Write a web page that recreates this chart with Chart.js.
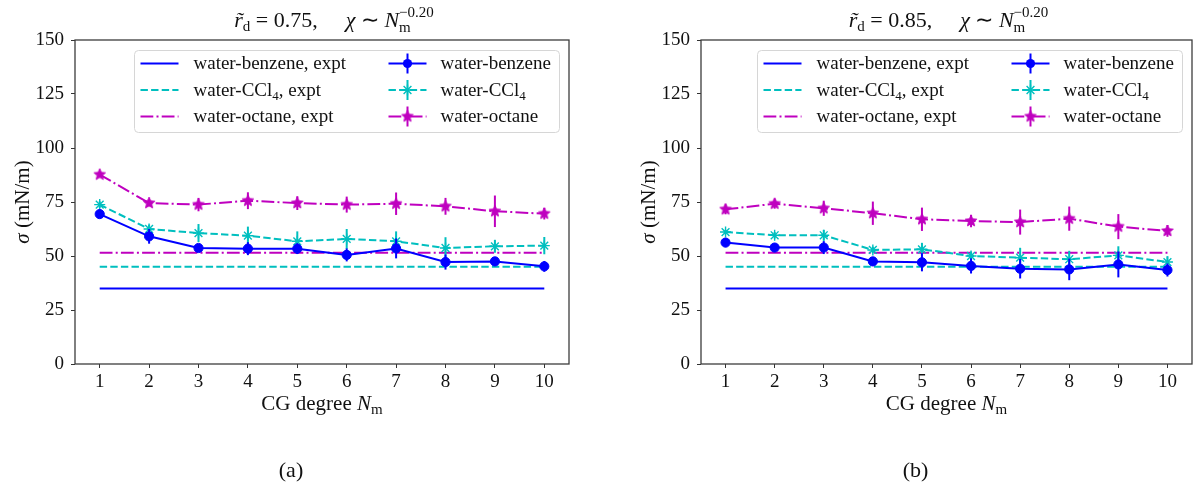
<!DOCTYPE html>
<html><head><meta charset="utf-8">
<script src="https://cdn.jsdelivr.net/npm/chart.js@4.4.1/dist/chart.umd.min.js"></script>
<style>
html,body{margin:0;padding:0;background:#fff;width:1200px;height:491px;overflow:hidden}
.wrap{position:absolute;top:0;width:600px;height:491px}
canvas{display:block}
</style></head><body>
<div class="wrap" style="left:0"><canvas id="cA" width="600" height="491"></canvas></div>
<div class="wrap" style="left:600px"><canvas id="cB" width="600" height="491"></canvas></div>
<script>
// ---------- data ----------
const cgDegree = [1, 2, 3, 4, 5, 6, 7, 8, 9, 10];
const yTickValues = [0, 25, 50, 75, 100, 125, 150];
const exptBenzene = 35.0;
const exptCCl4 = 45.0;
const exptOctane = 51.5;

// panel (a): r_d = 0.75
const benzeneA    = [69.4, 59.1, 53.7, 53.4, 53.4, 50.5, 53.5, 47.2, 47.5, 45.2];
const benzeneAErr = [1.2, 3.4, 1.5, 3.0, 2.5, 3.0, 4.6, 3.5, 1.5, 2.5];
const ccl4A       = [73.8, 62.5, 60.6, 59.4, 56.8, 57.9, 56.8, 53.7, 54.5, 54.8];
const ccl4AErr    = [1.5, 2.0, 4.2, 4.2, 4.6, 4.6, 4.6, 5.0, 3.0, 4.0];
const octaneA     = [87.7, 74.5, 73.8, 75.6, 74.5, 73.8, 74.2, 73.0, 70.7, 69.6];
const octaneAErr  = [1.2, 1.5, 3.1, 3.9, 3.2, 3.7, 5.2, 3.9, 7.3, 2.7];

// panel (b): r_d = 0.85
const benzeneB    = [56.2, 53.9, 53.9, 47.5, 47.1, 45.4, 44.1, 43.8, 46.1, 43.5];
const benzeneBErr = [1.0, 1.5, 3.0, 1.5, 4.2, 3.5, 4.5, 5.0, 6.0, 3.0];
const ccl4B       = [61.1, 59.6, 59.6, 52.8, 53.1, 50.0, 49.2, 48.5, 50.3, 47.2];
const ccl4BErr    = [1.0, 1.5, 2.5, 1.5, 3.0, 2.0, 4.6, 3.9, 4.2, 2.7];
const octaneB     = [71.6, 74.2, 72.1, 69.8, 67.0, 66.2, 65.7, 67.3, 63.6, 61.6];
const octaneBErr  = [2.3, 2.3, 3.5, 5.4, 5.4, 2.9, 5.8, 5.6, 5.8, 2.7];

// ---------- styling ----------
const FONT = '"Liberation Serif", "Times New Roman", serif';
const C_B = '#0000ff', C_C = '#00bfbf', C_M = '#bf00bf';
const DASH = [7.4, 3.2];
const DASHDOT = [12.8, 3.2, 2, 3.2];

function starImage(color, r) {
  const s = Math.ceil(r * 2 + 4);
  const c = document.createElement('canvas'); c.width = s; c.height = s;
  const g = c.getContext('2d');
  g.fillStyle = color; g.strokeStyle = color; g.lineWidth = 1; g.lineJoin = 'miter';
  g.beginPath();
  for (let i = 0; i < 10; i++) {
    const a = -Math.PI / 2 + i * Math.PI / 5;
    const rr = (i % 2) ? r * 0.45 : r;
    g.lineTo(s / 2 + rr * Math.cos(a), s / 2 + rr * Math.sin(a));
  }
  g.closePath(); g.fill(); g.stroke();
  return c;
}
const magStar = starImage(C_M, 6);

function seriesDs(label, values, errs, color, dash, marker) {
  const base = {
    label, errors: errs,
    data: cgDegree.map((x, i) => ({ x, y: values[i] })),
    borderColor: color, backgroundColor: color, borderWidth: 2, borderDash: dash,
    pointBackgroundColor: color, pointBorderColor: color, tension: 0, fill: false
  };
  if (marker === 'circle') Object.assign(base, { pointStyle: 'circle', pointRadius: 4.6, pointBorderWidth: 1 });
  if (marker === 'ast') Object.assign(base, { pointStyle: 'star', pointRadius: 5.5, pointBorderWidth: 1.4 });
  if (marker === 'star') Object.assign(base, { pointStyle: magStar, pointRadius: 6 });
  base.marker = marker;
  return base;
}
function exptDs(label, value, color, dash) {
  const xs = [cgDegree[0], cgDegree[cgDegree.length - 1]];
  return {
    label, isExpt: true, data: xs.map(x => ({ x, y: value })),
    borderColor: color, backgroundColor: color, borderWidth: 2, borderDash: dash, pointRadius: 0, fill: false
  };
}

// ---------- rich text ----------
function fnt(p) { return (p.it ? 'italic ' : '') + p.size + 'px ' + FONT; }
function layoutRich(ctx, parts) {
  let x = 0, prevStart = 0, prevW = 0; const out = [];
  for (const p of parts) {
    ctx.font = fnt(p);
    const w = ctx.measureText(p.t).width + (p.gap || 0);
    let sx;
    if (p.over) { sx = prevStart; x = Math.max(prevStart + prevW, sx + w); }
    else { sx = x; x += w; }
    out.push({ p, sx }); prevStart = sx; prevW = w;
  }
  return { out, width: x };
}
function drawRich(ctx, parts, x, y, align, color) {
  const L = layoutRich(ctx, parts);
  let x0 = x;
  if (align === 'center') x0 = x - L.width / 2;
  if (align === 'right') x0 = x - L.width;
  ctx.save();
  ctx.fillStyle = color || '#111';
  ctx.textBaseline = 'alphabetic'; ctx.textAlign = 'left';
  for (const o of L.out) {
    if (!o.p.t) continue;
    ctx.font = fnt(o.p);
    ctx.fillText(o.p.t, x0 + o.sx, y + (o.p.dy || 0));
  }
  ctx.restore();
}
function legendParts(label, size) {
  const idx = label.indexOf('CCl4');
  if (idx < 0) return [{ t: label, size }];
  return [{ t: label.slice(0, idx) + 'CCl', size }, { t: '4', size: Math.round(size * 0.7), dy: 4 },
          { t: label.slice(idx + 4), size }];
}

function drawMarker(ctx, ds, x, y) {
  ctx.save();
  ctx.fillStyle = ds.borderColor; ctx.strokeStyle = ds.borderColor; ctx.setLineDash([]);
  if (ds.marker === 'circle') {
    ctx.beginPath(); ctx.arc(x, y, ds.pointRadius, 0, Math.PI * 2); ctx.fill();
  } else if (ds.marker === 'ast') {
    const r = ds.pointRadius; ctx.lineWidth = ds.pointBorderWidth;
    ctx.beginPath();
    ctx.moveTo(x - r, y); ctx.lineTo(x + r, y); ctx.moveTo(x, y - r); ctx.lineTo(x, y + r);
    const d = r * Math.SQRT1_2;
    ctx.moveTo(x - d, y - d); ctx.lineTo(x + d, y + d); ctx.moveTo(x - d, y + d); ctx.lineTo(x + d, y - d);
    ctx.stroke();
  } else if (ds.marker === 'star') {
    ctx.drawImage(magStar, x - magStar.width / 2, y - magStar.height / 2);
  }
  ctx.restore();
}

function makeDecor(panel) {
  return {
    id: 'decor' + panel.key,
    beforeDatasetDraw(chart, args) {
      const ds = chart.data.datasets[args.index];
      if (!ds.errors) return;
      const ctx = chart.ctx, xs = chart.scales.x, ys = chart.scales.y;
      ctx.save(); ctx.strokeStyle = ds.borderColor; ctx.lineWidth = 2; ctx.setLineDash([]);
      ds.data.forEach((p, i) => {
        const e = ds.errors[i], px = xs.getPixelForValue(p.x);
        ctx.beginPath();
        ctx.moveTo(px, ys.getPixelForValue(p.y - e)); ctx.lineTo(px, ys.getPixelForValue(p.y + e));
        ctx.stroke();
      });
      ctx.restore();
    },
    afterDraw(chart) {
      const ctx = chart.ctx, a = chart.chartArea;
      const cx = (a.left + a.right) / 2;
      // frame
      ctx.save(); ctx.strokeStyle = '#3c3c3c'; ctx.lineWidth = 1.3; ctx.setLineDash([]);
      ctx.strokeRect(a.left, a.top, a.right - a.left, a.bottom - a.top); ctx.restore();
      // legend
      const bw = 425, bh = 82, bx = a.right - bw - 9.5, by = a.top + 10.5;
      ctx.save();
      ctx.beginPath(); ctx.roundRect(bx, by, bw, bh, 4);
      ctx.fillStyle = 'rgba(255,255,255,0.85)'; ctx.fill();
      ctx.strokeStyle = '#d6d6d6'; ctx.lineWidth = 1; ctx.stroke();
      ctx.restore();
      const rows = [by + 13, by + 39.5, by + 66];
      const expts = chart.data.datasets.filter(d => d.isExpt);
      const sers = chart.data.datasets.filter(d => !d.isExpt);
      const cols = [{ ds: expts, hx: bx + 6, tx: bx + 59 }, { ds: sers, hx: bx + 254, tx: bx + 306 }];
      cols.forEach(col => {
        col.ds.forEach((ds, r) => {
          const y = rows[r];
          ctx.save();
          ctx.strokeStyle = ds.borderColor; ctx.lineWidth = 2; ctx.setLineDash(ds.borderDash || []);
          ctx.beginPath(); ctx.moveTo(col.hx, y); ctx.lineTo(col.hx + 38, y); ctx.stroke();
          if (ds.errors) {
            ctx.setLineDash([]);
            ctx.beginPath(); ctx.moveTo(col.hx + 19, y - 10); ctx.lineTo(col.hx + 19, y + 10); ctx.stroke();
          }
          ctx.restore();
          if (ds.errors) drawMarker(ctx, ds, col.hx + 19, y);
          drawRich(ctx, legendParts(ds.label, 19), col.tx, y + 5.5, 'left', '#111');
        });
      });
      // title
      drawRich(ctx, [
        { t: 'r\u0303', it: 1, size: 22 }, { t: 'd', size: 15, dy: 4 },
        { t: ' = ' + panel.rd + ',', size: 22 }, { t: '', size: 22, gap: 28 },
        { t: '\u03c7', it: 1, size: 22 }, { t: ' \u223c ', size: 22 },
        { t: 'N', it: 1, size: 22 }, { t: 'm', size: 15, dy: 5 }, { t: '\u22120.20', size: 15, dy: -10, over: 1 }
      ], cx + panel.titleDx, 27, 'center', '#111');
      // x label
      drawRich(ctx, [{ t: 'CG degree ', size: 21 }, { t: 'N', it: 1, size: 21 }, { t: 'm', size: 15, dy: 4 }],
        cx, 410, 'center', '#111');
      // y label
      ctx.save();
      ctx.translate(a.left - 53, (a.top + a.bottom) / 2); ctx.rotate(-Math.PI / 2);
      drawRich(ctx, [{ t: '\u03c3', it: 1, size: 21 }, { t: ' (mN/m)', size: 21 }], 0, 7, 'center', '#111');
      ctx.restore();
      // caption
      drawRich(ctx, [{ t: panel.caption, size: 22 }], cx - 31, 477, 'center', '#111');
    }
  };
}

function makeChart(id, panel, series) {
  const datasets = [
    seriesDs('water-benzene', series.b, series.be, C_B, [], 'circle'),
    seriesDs('water-CCl4', series.c, series.ce, C_C, DASH, 'ast'),
    seriesDs('water-octane', series.m, series.me, C_M, DASHDOT, 'star'),
    exptDs('water-benzene, expt', exptBenzene, C_B, []),
    exptDs('water-CCl4, expt', exptCCl4, C_C, DASH),
    exptDs('water-octane, expt', exptOctane, C_M, DASHDOT)
  ];
  const tickFont = { family: FONT, size: 19 };
  return new Chart(document.getElementById(id), {
    type: 'line',
    data: { datasets },
    options: {
      responsive: false, animation: false, devicePixelRatio: 1,
      layout: { padding: { top: 40, left: 0, right: panel.padRight, bottom: 87 } },
      plugins: { legend: { display: false }, tooltip: { enabled: false } },
      scales: {
        x: {
          type: 'linear', min: 0.5, max: 10.5,
          afterBuildTicks: s => { s.ticks = cgDegree.map(v => ({ value: v })); },
          afterFit: s => { s.height = 40; },
          grid: { drawOnChartArea: false, drawTicks: true, tickLength: 4, color: '#333', lineWidth: 1 },
          border: { display: false },
          ticks: { font: tickFont, color: '#111', padding: 3, maxRotation: 0, autoSkip: false, callback: v => String(v) }
        },
        y: {
          type: 'linear', min: 0, max: 150,
          afterBuildTicks: s => { s.ticks = yTickValues.map(v => ({ value: v })); },
          afterFit: s => { s.width = panel.yWidth; },
          grid: { drawOnChartArea: false, drawTicks: true, tickLength: 4, color: '#333', lineWidth: 1 },
          border: { display: false },
          ticks: { font: tickFont, color: '#111', padding: 7, autoSkip: false, callback: v => String(v) }
        }
      }
    },
    plugins: [makeDecor(panel)]
  });
}

makeChart('cA', { key: 'A', rd: '0.75', caption: '(a)', titleDx: 12, padRight: 31, yWidth: 75 },
  { b: benzeneA, be: benzeneAErr, c: ccl4A, ce: ccl4AErr, m: octaneA, me: octaneAErr });
makeChart('cB', { key: 'B', rd: '0.85', caption: '(b)', titleDx: 2, padRight: 5, yWidth: 101 },
  { b: benzeneB, be: benzeneBErr, c: ccl4B, ce: ccl4BErr, m: octaneB, me: octaneBErr });
</script>
</body></html>
